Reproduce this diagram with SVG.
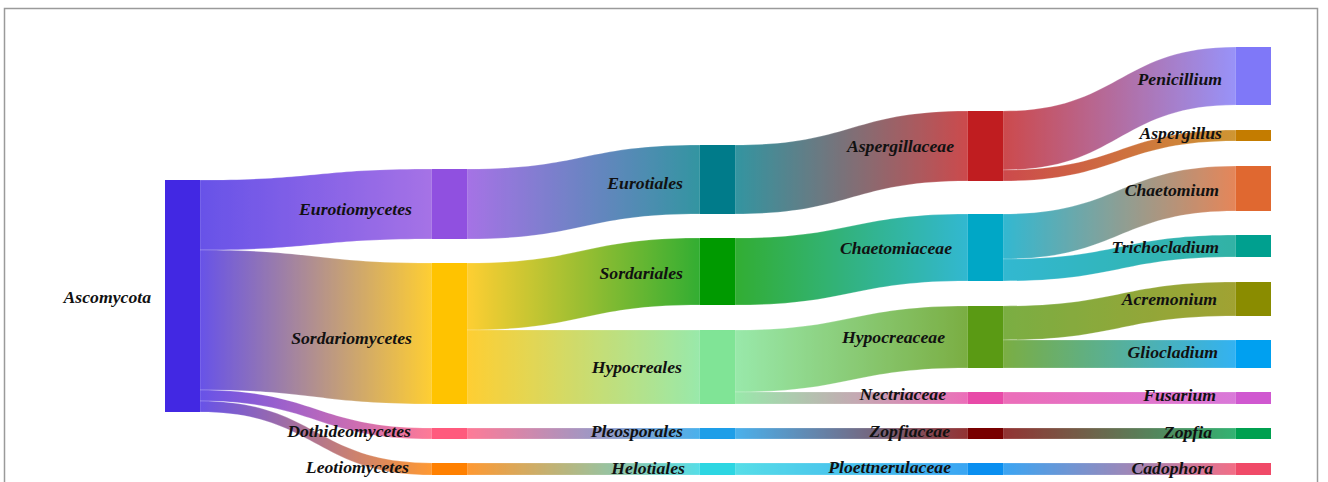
<svg xmlns="http://www.w3.org/2000/svg" width="1328" height="482" viewBox="0 0 1328 482">
<style>
.lk{stroke:#ffffff;stroke-opacity:0.35;stroke-width:0.6;opacity:0.8}
.lb{font-family:"Liberation Serif","Times New Roman",serif;font-weight:bold;font-style:italic;font-size:17.7px;fill:#111;text-anchor:end}
</style>
<defs>
<linearGradient id="g1" gradientUnits="userSpaceOnUse" x1="200" x2="432"><stop offset="0" stop-color="#4228e3"/><stop offset="1" stop-color="#9050e0"/></linearGradient>
<linearGradient id="g2" gradientUnits="userSpaceOnUse" x1="200" x2="432"><stop offset="0" stop-color="#4228e3"/><stop offset="1" stop-color="#ffc300"/></linearGradient>
<linearGradient id="g3" gradientUnits="userSpaceOnUse" x1="200" x2="432"><stop offset="0" stop-color="#4228e3"/><stop offset="1" stop-color="#ff5a7d"/></linearGradient>
<linearGradient id="g4" gradientUnits="userSpaceOnUse" x1="200" x2="432"><stop offset="0" stop-color="#4228e3"/><stop offset="1" stop-color="#ff8000"/></linearGradient>
<linearGradient id="g5" gradientUnits="userSpaceOnUse" x1="467" x2="700"><stop offset="0" stop-color="#9050e0"/><stop offset="1" stop-color="#007b8a"/></linearGradient>
<linearGradient id="g6" gradientUnits="userSpaceOnUse" x1="467" x2="700"><stop offset="0" stop-color="#ffc300"/><stop offset="1" stop-color="#009a00"/></linearGradient>
<linearGradient id="g7" gradientUnits="userSpaceOnUse" x1="467" x2="700"><stop offset="0" stop-color="#ffc300"/><stop offset="1" stop-color="#80e496"/></linearGradient>
<linearGradient id="g8" gradientUnits="userSpaceOnUse" x1="467" x2="700"><stop offset="0" stop-color="#ff5a7d"/><stop offset="1" stop-color="#1e9ee8"/></linearGradient>
<linearGradient id="g9" gradientUnits="userSpaceOnUse" x1="467" x2="700"><stop offset="0" stop-color="#ff8000"/><stop offset="1" stop-color="#2dd6e2"/></linearGradient>
<linearGradient id="g10" gradientUnits="userSpaceOnUse" x1="735" x2="968"><stop offset="0" stop-color="#007b8a"/><stop offset="1" stop-color="#c01d20"/></linearGradient>
<linearGradient id="g11" gradientUnits="userSpaceOnUse" x1="735" x2="968"><stop offset="0" stop-color="#009a00"/><stop offset="1" stop-color="#00a7c6"/></linearGradient>
<linearGradient id="g12" gradientUnits="userSpaceOnUse" x1="735" x2="968"><stop offset="0" stop-color="#80e496"/><stop offset="1" stop-color="#5a9a14"/></linearGradient>
<linearGradient id="g13" gradientUnits="userSpaceOnUse" x1="735" x2="968"><stop offset="0" stop-color="#80e496"/><stop offset="1" stop-color="#e84aa8"/></linearGradient>
<linearGradient id="g14" gradientUnits="userSpaceOnUse" x1="735" x2="968"><stop offset="0" stop-color="#1e9ee8"/><stop offset="1" stop-color="#780000"/></linearGradient>
<linearGradient id="g15" gradientUnits="userSpaceOnUse" x1="735" x2="968"><stop offset="0" stop-color="#2dd6e2"/><stop offset="1" stop-color="#0a8ff0"/></linearGradient>
<linearGradient id="g16" gradientUnits="userSpaceOnUse" x1="1003" x2="1236"><stop offset="0" stop-color="#c01d20"/><stop offset="1" stop-color="#7f78f8"/></linearGradient>
<linearGradient id="g17" gradientUnits="userSpaceOnUse" x1="1003" x2="1236"><stop offset="0" stop-color="#c01d20"/><stop offset="1" stop-color="#c47c00"/></linearGradient>
<linearGradient id="g18" gradientUnits="userSpaceOnUse" x1="1003" x2="1236"><stop offset="0" stop-color="#00a7c6"/><stop offset="1" stop-color="#e06830"/></linearGradient>
<linearGradient id="g19" gradientUnits="userSpaceOnUse" x1="1003" x2="1236"><stop offset="0" stop-color="#00a7c6"/><stop offset="1" stop-color="#00a08f"/></linearGradient>
<linearGradient id="g20" gradientUnits="userSpaceOnUse" x1="1003" x2="1236"><stop offset="0" stop-color="#5a9a14"/><stop offset="1" stop-color="#8a8c00"/></linearGradient>
<linearGradient id="g21" gradientUnits="userSpaceOnUse" x1="1003" x2="1236"><stop offset="0" stop-color="#5a9a14"/><stop offset="1" stop-color="#00a0f0"/></linearGradient>
<linearGradient id="g22" gradientUnits="userSpaceOnUse" x1="1003" x2="1236"><stop offset="0" stop-color="#e84aa8"/><stop offset="1" stop-color="#d058d0"/></linearGradient>
<linearGradient id="g23" gradientUnits="userSpaceOnUse" x1="1003" x2="1236"><stop offset="0" stop-color="#780000"/><stop offset="1" stop-color="#00a050"/></linearGradient>
<linearGradient id="g24" gradientUnits="userSpaceOnUse" x1="1003" x2="1236"><stop offset="0" stop-color="#0a8ff0"/><stop offset="1" stop-color="#f04a68"/></linearGradient>
</defs>
<rect width="1328" height="482" fill="#ffffff"/>
<path d="M4.5 482 V8.5 H1317.5 V482" fill="none" stroke="#9a9a9a" stroke-width="1.5"/>
<g id="connectors">
<path class="lk" fill="url(#g1)" d="M200 180 C316 180 316 169 432 169 L432 239 C316 239 316 250 200 250 Z"/>
<path class="lk" fill="url(#g2)" d="M200 250 C316 250 316 263 432 263 L432 404 C316 404 316 390 200 390 Z"/>
<path class="lk" fill="url(#g3)" d="M200 390 C316 390 316 428 432 428 L432 439 C316 439 316 401 200 401 Z"/>
<path class="lk" fill="url(#g4)" d="M200 401 C316 401 316 463 432 463 L432 475 C316 475 316 412 200 412 Z"/>
<path class="lk" fill="url(#g5)" d="M467 169 C583.5 169 583.5 145 700 145 L700 214 C583.5 214 583.5 239 467 239 Z"/>
<path class="lk" fill="url(#g6)" d="M467 263 C583.5 263 583.5 238 700 238 L700 305 C583.5 305 583.5 330 467 330 Z"/>
<path class="lk" fill="url(#g7)" d="M467 330 C583.5 330 583.5 330 700 330 L700 404 C583.5 404 583.5 404 467 404 Z"/>
<path class="lk" fill="url(#g8)" d="M467 428 L700 428 L700 439 L467 439 Z"/>
<path class="lk" fill="url(#g9)" d="M467 463 L700 463 L700 475 L467 475 Z"/>
<path class="lk" fill="url(#g10)" d="M735 145 C851.5 145 851.5 111 968 111 L968 181 C851.5 181 851.5 214 735 214 Z"/>
<path class="lk" fill="url(#g11)" d="M735 238 C851.5 238 851.5 214 968 214 L968 281 C851.5 281 851.5 305 735 305 Z"/>
<path class="lk" fill="url(#g12)" d="M735 330 C851.5 330 851.5 306 968 306 L968 368 C851.5 368 851.5 392 735 392 Z"/>
<path class="lk" fill="url(#g13)" d="M735 392 C851.5 392 851.5 392 968 392 L968 404 C851.5 404 851.5 404 735 404 Z"/>
<path class="lk" fill="url(#g14)" d="M735 428 L968 428 L968 439 L735 439 Z"/>
<path class="lk" fill="url(#g15)" d="M735 463 L968 463 L968 475 L735 475 Z"/>
<path class="lk" fill="url(#g16)" d="M1003 111 C1119.5 111 1119.5 47 1236 47 L1236 105 C1119.5 105 1119.5 170 1003 170 Z"/>
<path class="lk" fill="url(#g17)" d="M1003 170 C1119.5 170 1119.5 130 1236 130 L1236 141 C1119.5 141 1119.5 181 1003 181 Z"/>
<path class="lk" fill="url(#g18)" d="M1003 214 C1119.5 214 1119.5 166 1236 166 L1236 211 C1119.5 211 1119.5 259 1003 259 Z"/>
<path class="lk" fill="url(#g19)" d="M1003 259 C1119.5 259 1119.5 235 1236 235 L1236 257 C1119.5 257 1119.5 281 1003 281 Z"/>
<path class="lk" fill="url(#g20)" d="M1003 306 C1119.5 306 1119.5 282 1236 282 L1236 316 C1119.5 316 1119.5 340 1003 340 Z"/>
<path class="lk" fill="url(#g21)" d="M1003 340 C1119.5 340 1119.5 340 1236 340 L1236 368 C1119.5 368 1119.5 368 1003 368 Z"/>
<path class="lk" fill="url(#g22)" d="M1003 392 L1236 392 L1236 404 L1003 404 Z"/>
<path class="lk" fill="url(#g23)" d="M1003 428 L1236 428 L1236 439 L1003 439 Z"/>
<path class="lk" fill="url(#g24)" d="M1003 463 L1236 463 L1236 475 L1003 475 Z"/>
</g>
<g id="n-ascomycota"><rect x="165" y="180" width="35" height="232" fill="#4228e3"/><text class="lb" x="151" y="303">Ascomycota</text></g>
<g id="n-eurotiomycetes"><rect x="432" y="169" width="35" height="70" fill="#9050e0"/><text class="lb" x="412" y="215">Eurotiomycetes</text></g>
<g id="n-sordariomycetes"><rect x="432" y="263" width="35" height="141" fill="#ffc300"/><text class="lb" x="412" y="344">Sordariomycetes</text></g>
<g id="n-dothideomycetes"><rect x="432" y="428" width="35" height="11" fill="#ff5a7d"/><text class="lb" x="411" y="437">Dothideomycetes</text></g>
<g id="n-leotiomycetes"><rect x="432" y="463" width="35" height="12" fill="#ff8000"/><text class="lb" x="409" y="473">Leotiomycetes</text></g>
<g id="n-eurotiales"><rect x="700" y="145" width="35" height="69" fill="#007b8a"/><text class="lb" x="683" y="189">Eurotiales</text></g>
<g id="n-sordariales"><rect x="700" y="238" width="35" height="67" fill="#009a00"/><text class="lb" x="683" y="279">Sordariales</text></g>
<g id="n-hypocreales"><rect x="700" y="330" width="35" height="74" fill="#80e496"/><text class="lb" x="682" y="373">Hypocreales</text></g>
<g id="n-pleosporales"><rect x="700" y="428" width="35" height="11" fill="#1e9ee8"/><text class="lb" x="683" y="437">Pleosporales</text></g>
<g id="n-helotiales"><rect x="700" y="463" width="35" height="12" fill="#2dd6e2"/><text class="lb" x="685" y="474">Helotiales</text></g>
<g id="n-aspergillaceae"><rect x="968" y="111" width="35" height="70" fill="#c01d20"/><text class="lb" x="954" y="152">Aspergillaceae</text></g>
<g id="n-chaetomiaceae"><rect x="968" y="214" width="35" height="67" fill="#00a7c6"/><text class="lb" x="952" y="254">Chaetomiaceae</text></g>
<g id="n-hypocreaceae"><rect x="968" y="306" width="35" height="62" fill="#5a9a14"/><text class="lb" x="945" y="343">Hypocreaceae</text></g>
<g id="n-nectriaceae"><rect x="968" y="392" width="35" height="12" fill="#e84aa8"/><text class="lb" x="946" y="400">Nectriaceae</text></g>
<g id="n-zopfiaceae"><rect x="968" y="428" width="35" height="11" fill="#780000"/><text class="lb" x="950" y="437">Zopfiaceae</text></g>
<g id="n-ploettnerulaceae"><rect x="968" y="463" width="35" height="12" fill="#0a8ff0"/><text class="lb" x="951" y="473">Ploettnerulaceae</text></g>
<g id="n-penicillium"><rect x="1236" y="47" width="35" height="58" fill="#7f78f8"/><text class="lb" x="1222" y="85">Penicillium</text></g>
<g id="n-aspergillus"><rect x="1236" y="130" width="35" height="11" fill="#c47c00"/><text class="lb" x="1222" y="139">Aspergillus</text></g>
<g id="n-chaetomium"><rect x="1236" y="166" width="35" height="45" fill="#e06830"/><text class="lb" x="1219" y="196">Chaetomium</text></g>
<g id="n-trichocladium"><rect x="1236" y="235" width="35" height="22" fill="#00a08f"/><text class="lb" x="1219" y="253">Trichocladium</text></g>
<g id="n-acremonium"><rect x="1236" y="282" width="35" height="34" fill="#8a8c00"/><text class="lb" x="1217" y="305">Acremonium</text></g>
<g id="n-gliocladium"><rect x="1236" y="340" width="35" height="28" fill="#00a0f0"/><text class="lb" x="1218" y="358">Gliocladium</text></g>
<g id="n-fusarium"><rect x="1236" y="392" width="35" height="12" fill="#d058d0"/><text class="lb" x="1216" y="401">Fusarium</text></g>
<g id="n-zopfia"><rect x="1236" y="428" width="35" height="11" fill="#00a050"/><text class="lb" x="1212" y="438">Zopfia</text></g>
<g id="n-cadophora"><rect x="1236" y="463" width="35" height="12" fill="#f04a68"/><text class="lb" x="1213" y="474">Cadophora</text></g>
</svg>
